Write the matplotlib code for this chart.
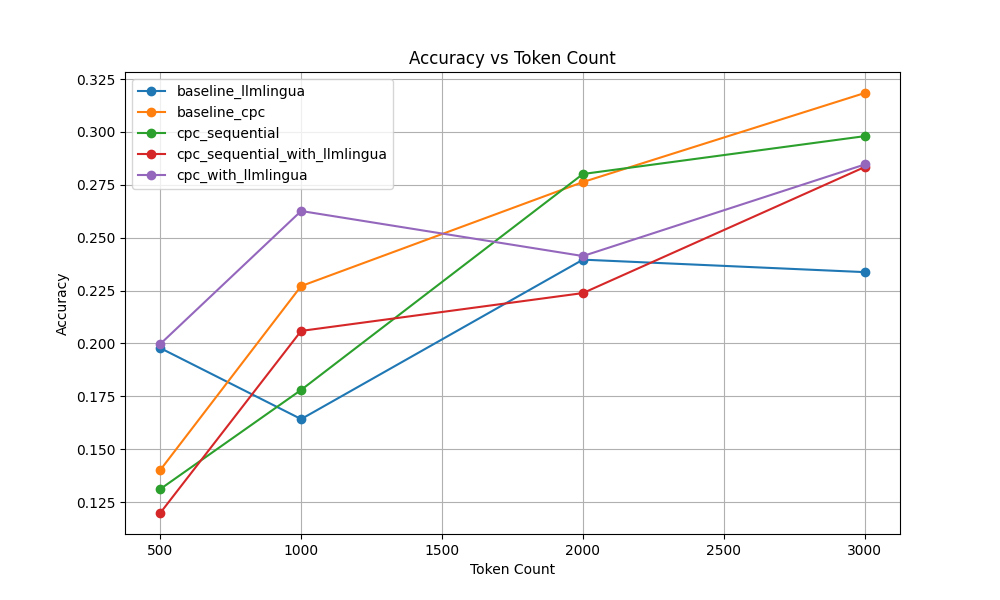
import matplotlib
matplotlib.use("Agg")
import matplotlib.pyplot as plt

token_counts = [500, 1000, 2000, 3000]
baseline_llmlingua = [0.1978, 0.1642, 0.2396, 0.2337]
baseline_cpc = [0.1401, 0.2271, 0.2763, 0.3184]
cpc_sequential = [0.1311, 0.1780, 0.2801, 0.2980]
cpc_sequential_with_llmlingua = [0.1198, 0.2059, 0.2238, 0.2834]
cpc_with_llmlingua = [0.1997, 0.2626, 0.2413, 0.2846]

series = [
    ("baseline_llmlingua", baseline_llmlingua),
    ("baseline_cpc", baseline_cpc),
    ("cpc_sequential", cpc_sequential),
    ("cpc_sequential_with_llmlingua", cpc_sequential_with_llmlingua),
    ("cpc_with_llmlingua", cpc_with_llmlingua),
]

fig, ax = plt.subplots(figsize=(10, 6), dpi=100)
for name, vals in series:
    ax.plot(token_counts, vals, marker="o", label=name)
ax.set_title("Accuracy vs Token Count")
ax.set_xlabel("Token Count")
ax.set_ylabel("Accuracy")
ax.grid(True)
ax.legend(loc="upper left")
fig.savefig("out.png")
